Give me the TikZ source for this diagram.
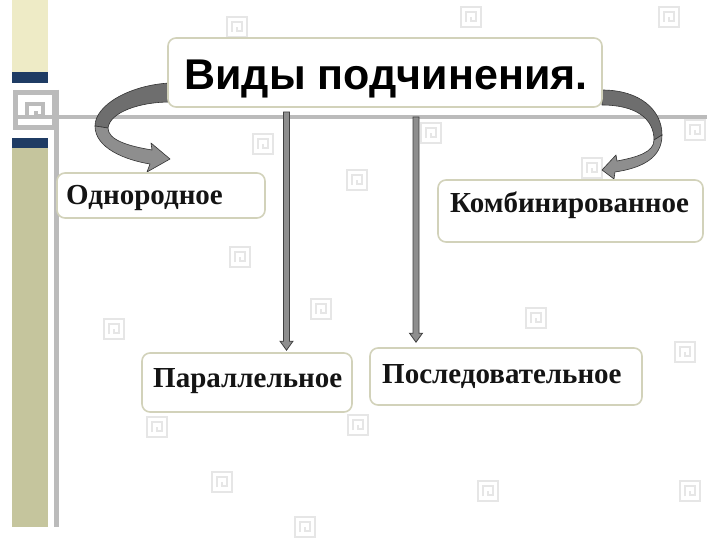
\documentclass[tikz,border=0pt]{standalone}
\usepackage{fontspec}
\setmainfont{Liberation Serif}
\newfontfamily\titlefont{Liberation Sans}
\usetikzlibrary{calc}
\definecolor{beigeA}{HTML}{EEEBC6}
\definecolor{beigeB}{HTML}{C5C59D}
\definecolor{navy}{HTML}{1F3C64}
\definecolor{lineg}{HTML}{BBBBBB}
\definecolor{boxedge}{HTML}{D2D2BA}
\definecolor{arrowdark}{HTML}{6E6E6E}
\definecolor{arrowlight}{HTML}{8E8E8E}
\definecolor{iconc}{HTML}{E6E6E6}
\newcommand{\fatdown}[2]{\filldraw[fill=arrowlight, draw=black!75, line width=0.8pt]
  ($(#1)+(-3,0)$) -- ($(#2)+(-3,-9)$) -- ($(#2)+(-6.5,-9)$) -- (#2) --
  ($(#2)+(6.5,-9)$) -- ($(#2)+(3,-9)$) -- ($(#1)+(3,0)$) -- cycle;}
\begin{document}
\begin{tikzpicture}[x=1pt,y=-1pt,
  box/.style={draw=boxedge, line width=1.6pt, fill=white, rounded corners=8pt, inner sep=0pt},
  lbl/.style={font=\bfseries\fontsize{29}{32}\selectfont, inner sep=0pt, anchor=base west, text=black!92},
  keyicon/.pic={
    \draw[iconc, line width=1.8pt] (-10,-10) rectangle (10,10);
    \draw[iconc, line width=1.8pt] (-5,5) -- (-5,-5) -- (5,-5) -- (5,4) -- (0,4) -- (0,0);
  },
  curvarr/.style={draw=black!80, line width=0.6pt, line join=round}]
\useasboundingbox (0,0) rectangle (720,540);
\fill[white] (0,0) rectangle (720,540);

% faint background icons
\foreach \p in {(237,27),(471,17),(669,17),(263,144),(357,180),(431,133),(695,130),(592,168),
  (240,257),(321,309),(536,318),(114,329),(685,352),(157,427),(358,425),(222,482),(488,491),(690,491),(305,527)}
  \pic at \p {keyicon};

% left strip
\fill[beigeA] (12,0) rectangle (48,72);
\fill[navy] (12,72) rectangle (48,83);
\fill[navy] (12,138) rectangle (48,148);
\fill[beigeB] (12,148) rectangle (48,527);
\draw[lineg, line width=5pt] (15.5,92.5) rectangle (54.5,127.5);
\draw[lineg, line width=4pt] (27,118) -- (27,104) -- (43,104) -- (43,116) -- (36,116) -- (36,111);
\draw[lineg, line width=5pt] (56.5,90) -- (56.5,527);
\draw[lineg, line width=4pt] (13,117) -- (707,117);

% curved arrows
\filldraw[curvarr, fill=arrowdark] (170,83) .. controls (130,85) and (95,105) .. (95,126)
  -- (108,128) .. controls (110,112) and (140,102) .. (170,102) -- cycle;
\filldraw[curvarr, fill=arrowlight] (95,126) .. controls (95,148) and (125,160) .. (150,164)
  -- (147,172) -- (170,159) -- (151,143) -- (152,150)
  .. controls (128,146) and (108,140) .. (108,128) -- cycle;
\filldraw[curvarr, fill=arrowdark] (602,90) .. controls (640,90) and (662,110) .. (662,135)
  -- (654,140) .. controls (654,118) and (635,105) .. (602,105) -- cycle;
\filldraw[curvarr, fill=arrowlight] (662,135) .. controls (662,158) and (642,168) .. (615,172)
  -- (614,179) -- (602,170) -- (616,155) -- (617,161)
  .. controls (638,157) and (654,152) .. (654,140) -- cycle;

% boxes
\node[box, minimum width=434pt, minimum height=69pt] (title) at (385,72.5) {};
\node[font=\titlefont\bfseries\fontsize{43}{48}\selectfont, inner sep=0pt, anchor=base] (titletext) at (386,90) {Виды подчинения.};

\node[box, minimum width=208pt, minimum height=45pt] (odn) at (161,195.5) {};
\node[lbl] (odntext) at (66,205) {Однородное};

\node[box, minimum width=265pt, minimum height=62pt] (komb) at (570.5,211) {};
\node[lbl] (kombtext) at (450,213) {Комбинированное};

\node[box, minimum width=210pt, minimum height=59pt] (par) at (247,382.5) {};
\node[lbl] (partext) at (153,387) {Параллельное};

\node[box, minimum width=272pt, minimum height=57pt] (seq) at (506,376.5) {};
\node[lbl] (seqtext) at (382,383) {Последовательное};

% vertical arrows
\coordinate (s1) at (286.5,112);
\coordinate (e1) at ($(s1 |- par.north)+(0,-2)$);
\fatdown{s1}{e1}
\coordinate (s2) at (416,117);
\coordinate (e2) at ($(s2 |- seq.north)+(0,-5)$);
\fatdown{s2}{e2}
\end{tikzpicture}
\end{document}
